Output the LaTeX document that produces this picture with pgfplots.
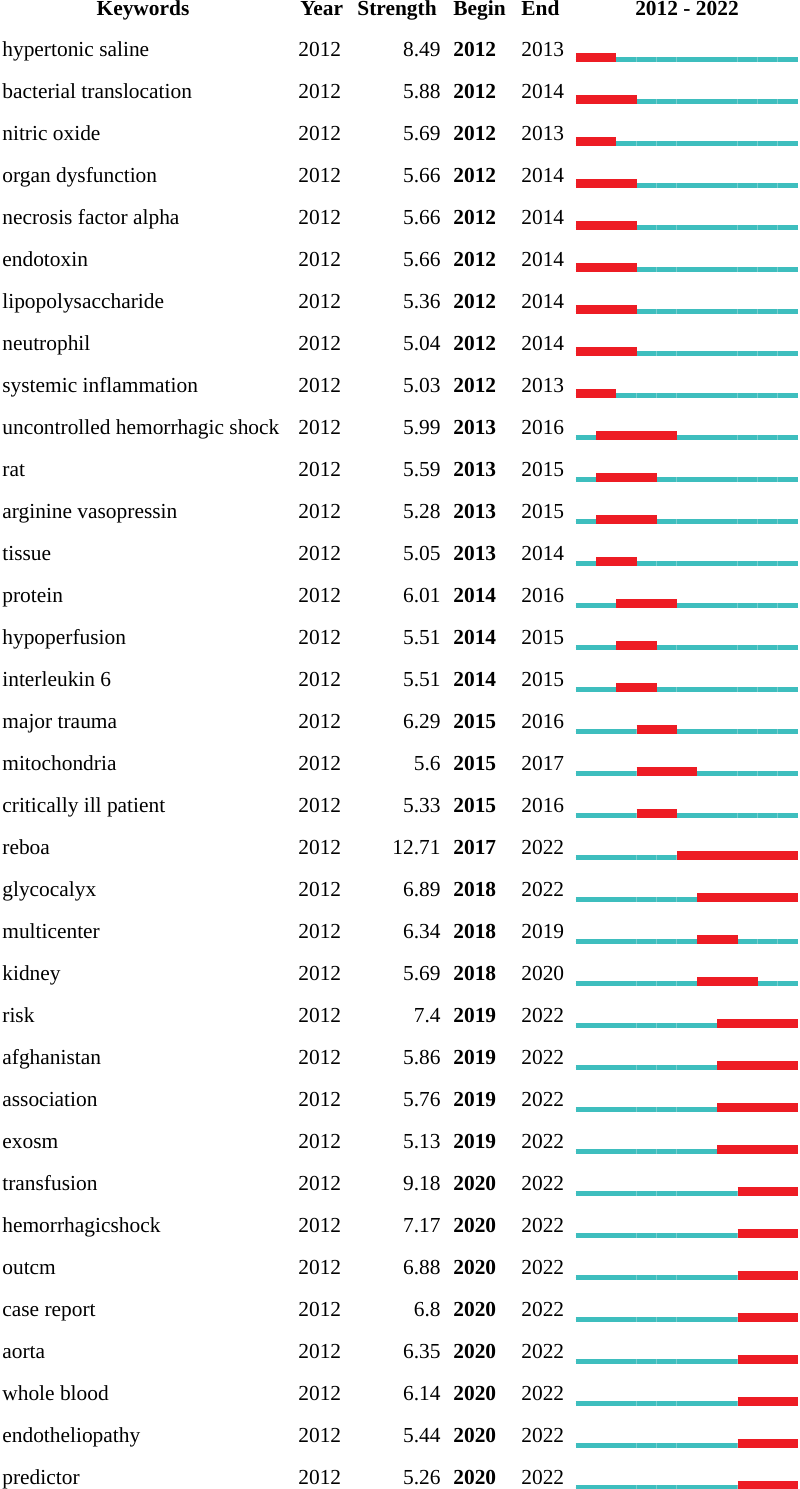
\documentclass[border=0pt]{standalone}
\usepackage{pgfplots}
\usepackage{pgfplotstable}
\usepackage{fontspec}
\pgfplotsset{compat=1.18}
\setmainfont{Liberation Serif}

\definecolor{burstred}{RGB}{237,28,36}
\definecolor{burstcyan}{RGB}{62,190,190}
\definecolor{burstcyanlt}{RGB}{120,206,206}

\pgfplotstableread[col sep=comma]{
kw,year,str,begin,end
hypertonic saline,2012,8.49,2012,2013
bacterial translocation,2012,5.88,2012,2014
nitric oxide,2012,5.69,2012,2013
organ dysfunction,2012,5.66,2012,2014
necrosis factor alpha,2012,5.66,2012,2014
endotoxin,2012,5.66,2012,2014
lipopolysaccharide,2012,5.36,2012,2014
neutrophil,2012,5.04,2012,2014
systemic inflammation,2012,5.03,2012,2013
uncontrolled hemorrhagic shock,2012,5.99,2013,2016
rat,2012,5.59,2013,2015
arginine vasopressin,2012,5.28,2013,2015
tissue,2012,5.05,2013,2014
protein,2012,6.01,2014,2016
hypoperfusion,2012,5.51,2014,2015
interleukin 6,2012,5.51,2014,2015
major trauma,2012,6.29,2015,2016
mitochondria,2012,5.6,2015,2017
critically ill patient,2012,5.33,2015,2016
reboa,2012,12.71,2017,2022
glycocalyx,2012,6.89,2018,2022
multicenter,2012,6.34,2018,2019
kidney,2012,5.69,2018,2020
risk,2012,7.4,2019,2022
afghanistan,2012,5.86,2019,2022
association,2012,5.76,2019,2022
exosm,2012,5.13,2019,2022
transfusion,2012,9.18,2020,2022
hemorrhagicshock,2012,7.17,2020,2022
outcm,2012,6.88,2020,2022
case report,2012,6.8,2020,2022
aorta,2012,6.35,2020,2022
whole blood,2012,6.14,2020,2022
endotheliopathy,2012,5.44,2020,2022
predictor,2012,5.26,2020,2022
}\bursts

% one unit = one pixel of the 800x1489 reference
\newcommand{\tabfont}{\fontsize{10.7bp}{12bp}\selectfont}

\begin{document}
\begin{tikzpicture}
\begin{axis}[
  scale only axis,
  width=400bp, height=744.5bp,
  xmin=0, xmax=800, ymin=0, ymax=1489,
  y dir=reverse,
  hide axis,
  clip=true,
  textcol/.style={only marks, mark=none, point meta=explicit symbolic,
    nodes near coords,
    nodes near coords style={inner sep=0pt, font=\tabfont, text=black, #1}},
  segment/.style={only marks, mark=*, mark size=0pt,
    mark options={draw=none, fill=none},
    error bars/.cd, x dir=plus, x explicit, error mark=none,
    error bar style={line cap=butt, #1}},
]
\path (rel axis cs:0,0) rectangle (rel axis cs:1,1);

% header
\node[anchor=base, font=\tabfont\bfseries, inner sep=0pt] at (axis cs:143,15.5) {Keywords};
\node[anchor=base west, font=\tabfont\bfseries, inner sep=0pt] at (axis cs:300,15.5) {Year};
\node[anchor=base west, font=\tabfont\bfseries, inner sep=0pt] at (axis cs:357,15.5) {Strength};
\node[anchor=base west, font=\tabfont\bfseries, inner sep=0pt] at (axis cs:453,15.5) {Begin};
\node[anchor=base west, font=\tabfont\bfseries, inner sep=0pt] at (axis cs:521,15.5) {End};
\node[anchor=base, font=\tabfont\bfseries, inner sep=0pt] at (axis cs:687,15.5) {2012 - 2022};

% text columns
\addplot[textcol={anchor=base west}] table[x expr=2, y expr={56+42*\coordindex}, meta=kw] {\bursts};
\addplot[textcol={anchor=base west}] table[x expr=298, y expr={56+42*\coordindex}, meta=year] {\bursts};
\addplot[textcol={anchor=base east}] table[x expr=441, y expr={56+42*\coordindex}, meta=str] {\bursts};
\addplot[textcol={anchor=base west, font=\tabfont\bfseries}] table[x expr=453, y expr={56+42*\coordindex}, meta=begin] {\bursts};
\addplot[textcol={anchor=base west}] table[x expr=521, y expr={56+42*\coordindex}, meta=end] {\bursts};

% timeline 2012-2022 (cyan, faint year dividers) and burst period (red)
\addplot[segment={draw=burstcyanlt, line width=2.5bp}] table[x expr=576, y expr={59.5+42*\coordindex}, x error expr=222] {\bursts};
\addplot[segment={draw=burstcyan, line width=2.5bp, dash pattern=on 9.85bp off 0.25bp}] table[x expr=576, y expr={59.5+42*\coordindex}, x error expr=222] {\bursts};
\addplot[segment={draw=burstred, line width=4.25bp}] table[
  x expr={576+(\thisrow{begin}-2012)*20.2},
  y expr={57.5+42*\coordindex},
  x error expr={(\thisrow{end}-\thisrow{begin}+1)*20.2}] {\bursts};
\end{axis}
\end{tikzpicture}
\end{document}
